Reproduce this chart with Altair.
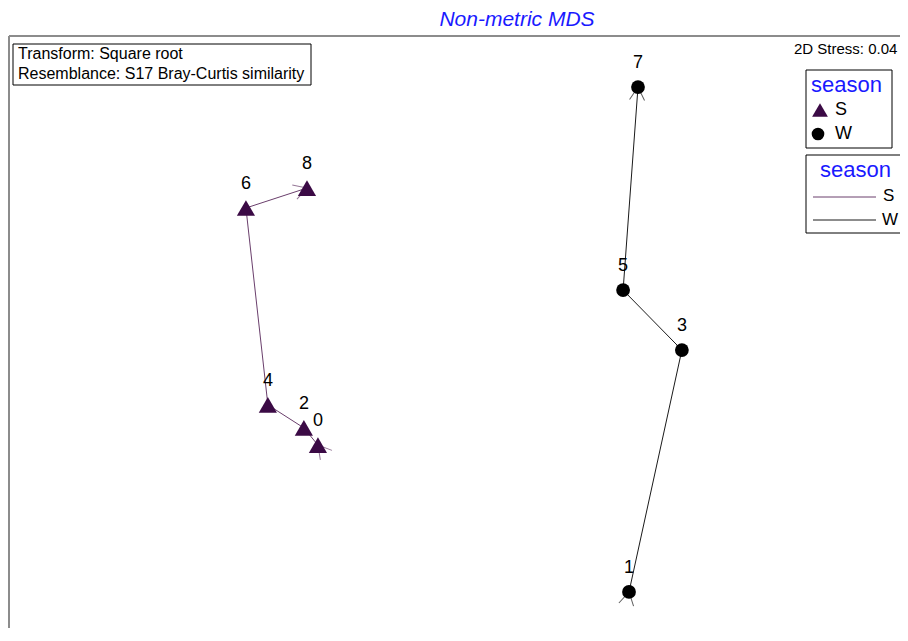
import math
import altair as alt
import pandas as pd

# ---- data ----
samples = ["0", "1", "2", "3", "4", "5", "6", "7", "8"]
seasons = ["S", "W", "S", "W", "S", "W", "S", "W", "S"]
mds_x = [-0.498, 0.608, -0.548, 0.796, -0.676, 0.587, -0.754, 0.640, -0.537]
mds_y = [-0.443, -0.965, -0.382, -0.105, -0.300, 0.108, 0.400, 0.830, 0.471]
order = [0, 1, 2, 3, 4, 5, 6, 7, 8]

season_names = ["S", "W"]
point_shapes = ["triangle-up", "circle"]
point_colors = ["#3b0a45", "#000000"]
line_colors = ["#6a3f6c", "#1a1a1a"]

FONT = "Liberation Sans"
W, H = 892, 620
UNIT = 3.2 / 900.0
XDOM = [-1.6, -1.6 + W * UNIT]
YDOM = [1.1111 - H * UNIT, 1.1111]

df = pd.DataFrame({"sample": samples, "season": seasons, "x": mds_x, "y": mds_y, "ord": order})

# arrowheads at start and end of each trajectory, pointing in travel direction
arrows = []
for s in season_names:
    g = df[df.season == s].sort_values("ord")
    xs, ys = list(g.x), list(g.y)
    for (a, b, at) in [(0, 1, 0), (len(xs) - 2, len(xs) - 1, len(xs) - 1)]:
        dx, dy = xs[b] - xs[a], ys[b] - ys[a]
        ang = math.degrees(math.atan2(dx, dy)) % 360
        arrows.append({"season": s, "x": xs[at], "y": ys[at], "angle": ang})
arr = pd.DataFrame(arrows)

xs_ = alt.Scale(domain=XDOM, range=[0, W], nice=False, zero=False)
ys_ = alt.Scale(domain=YDOM, range=[H, 0], nice=False, zero=False)
X = alt.X("x:Q", scale=xs_, axis=None)
Y = alt.Y("y:Q", scale=ys_, axis=None)

lines = alt.Chart(df).mark_line(strokeWidth=1).encode(
    x=X, y=Y, detail="season:N", order="ord:Q",
    color=alt.Color("season:N", scale=alt.Scale(domain=season_names, range=line_colors), legend=None),
)

arrow_path = "M -0.5 0.866 L 0 0 L 0.5 0.866"
arrow_layer = alt.Chart(arr).mark_point(shape=arrow_path, filled=False, size=900, strokeWidth=1).encode(
    x=X, y=Y, angle=alt.Angle("angle:Q", scale=None),
    color=alt.Color("season:N", scale=alt.Scale(domain=season_names, range=line_colors), legend=None),
)

points = alt.Chart(df).mark_point(filled=True, opacity=1).encode(
    x=X, y=Y,
    shape=alt.Shape("season:N", scale=alt.Scale(domain=season_names, range=point_shapes), legend=None),
    color=alt.Color("season:N", scale=alt.Scale(domain=season_names, range=point_colors), legend=None),
    size=alt.Size("season:N", scale=alt.Scale(domain=season_names, range=[330, 190]), legend=None),
)

labels = alt.Chart(df).mark_text(dy=-24, font=FONT, fontSize=18, color="black").encode(
    x=X, y=Y, text="sample:N"
)

one = pd.DataFrame({"a": [0]})

def txt(t, x, y, size, color="black", italic=False, align="left"):
    return alt.Chart(one).mark_text(
        text=t, font=FONT, fontSize=size, color=color, align=align, baseline="middle",
        fontStyle="italic" if italic else "normal",
    ).encode(x=alt.value(x), y=alt.value(y))

def box(x1, y1, x2, y2):
    return alt.Chart(one).mark_rect(fill="white", stroke="black", strokeWidth=1).encode(
        x=alt.value(x1), x2=alt.value(x2), y=alt.value(y1), y2=alt.value(y2)
    )

def rule(x1, y1, x2, y2, color, width=1):
    return alt.Chart(one).mark_rule(color=color, strokeWidth=width).encode(
        x=alt.value(x1), x2=alt.value(x2), y=alt.value(y1), y2=alt.value(y2)
    )

def sym(shape, x, y, color, size):
    return alt.Chart(one).mark_point(shape=shape, filled=True, opacity=1, color=color, size=size).encode(
        x=alt.value(x), y=alt.value(y)
    )

frame = rule(1, 28, W + 10, 28, "#8c8c8c", 2) + rule(1, 28, 1, H + 10, "#8c8c8c", 2)

title = txt("Non-metric MDS", 509, 12, 21, color="#1a1aff", italic=True, align="center")

info = box(5, 36, 303, 77) + txt("Transform: Square root", 10, 46, 16) + \
    txt("Resemblance: S17 Bray-Curtis similarity", 10, 66, 16)

stress = txt("2D Stress: 0.04", 786, 41, 15)

leg1 = box(798, 62, 884, 140) + txt("season", 803, 77, 22, color="#1a1aff") + \
    sym("triangle-up", 812, 102, point_colors[0], 250) + txt("S", 827, 102, 18) + \
    sym("circle", 810, 126, point_colors[1], 160) + txt("W", 827, 126, 18)

leg2 = box(798, 147, 910, 225) + txt("season", 812, 162, 22, color="#1a1aff") + \
    rule(805, 189, 868, 189, line_colors[0]) + txt("S", 875, 188, 17) + \
    rule(805, 212, 868, 212, line_colors[1]) + txt("W", 874, 212, 17)

chart = alt.layer(
    frame, lines, arrow_layer, points, labels, title, info, stress, leg1, leg2
).resolve_scale(color="independent", shape="independent", size="independent").properties(
    width=W, height=H, autosize=alt.AutoSizeParams(type="none"), padding=0
).configure_view(stroke=None)

chart.save("out.html", embed_options={"renderer": "svg", "actions": False})
